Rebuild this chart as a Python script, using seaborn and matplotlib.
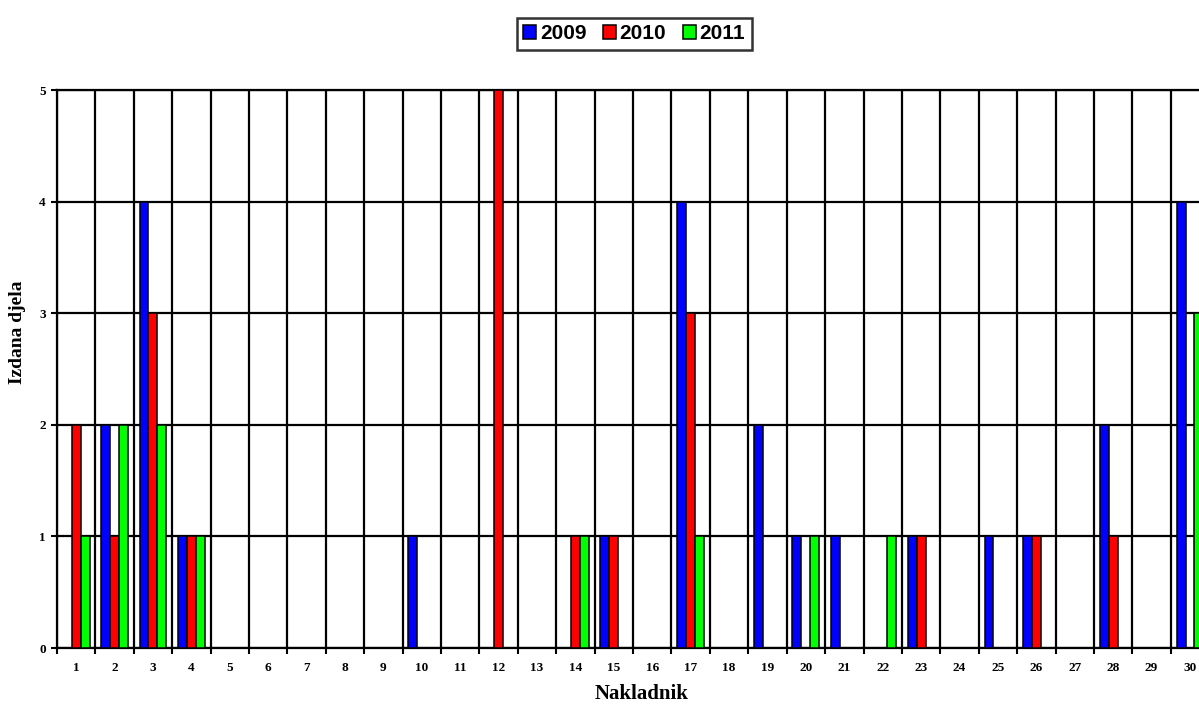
import matplotlib
matplotlib.use("Agg")
import matplotlib.pyplot as plt
import numpy as np
import pandas as pd
import seaborn as sns

# --- data ------------------------------------------------------------------
publishers = [str(i) for i in range(1, 31)]
years = ["2009", "2010", "2011"]
colors = ["#0000FF", "#FF0000", "#00FF00"]

works_2009 = [0, 2, 4, 1, 0, 0, 0, 0, 0, 1, 0, 0, 0, 0, 1,
              0, 4, 0, 2, 1, 1, 0, 1, 0, 1, 1, 0, 2, 0, 4]
works_2010 = [2, 1, 3, 1, 0, 0, 0, 0, 0, 0, 0, 5, 0, 1, 1,
              0, 3, 0, 0, 0, 0, 0, 1, 0, 0, 1, 0, 1, 0, 0]
works_2011 = [1, 2, 2, 1, 0, 0, 0, 0, 0, 0, 0, 0, 0, 1, 0,
              0, 1, 0, 0, 1, 0, 1, 0, 0, 0, 0, 0, 0, 0, 3]

df = pd.DataFrame({
    "Nakladnik": publishers * 3,
    "godina": np.repeat(years, len(publishers)),
    "djela": works_2009 + works_2010 + works_2011,
})

sns.set_theme(style="white")
serif_bold = {"family": "Liberation Serif", "weight": "bold"}

fig = plt.figure(figsize=(11.99, 7.04), dpi=100)
ax = fig.add_axes([0.0475, 0.0795, 0.961, 0.7925])

sns.barplot(data=df, x="Nakladnik", y="djela", hue="godina",
            order=publishers, hue_order=years, palette=colors,
            saturation=1, width=0.7, edgecolor="black", linewidth=1.1,
            errorbar=None, ax=ax, zorder=3)

# grid: horizontal at integers, vertical at category boundaries
ax.set_ylim(0, 5)
ax.set_xlim(-0.5, len(publishers) - 0.5)
ax.set_yticks(range(0, 6))
ax.set_xticks(np.arange(len(publishers)))
ax.set_xticks(np.arange(len(publishers) + 1) - 0.5, minor=True)
ax.grid(axis="y", which="major", color="black", linewidth=1.6, zorder=0)
ax.grid(axis="x", which="minor", color="black", linewidth=1.6, zorder=0)
ax.set_axisbelow(True)

ax.tick_params(axis="x", which="major", length=0, pad=10)
ax.tick_params(axis="x", which="minor", length=4, width=1.5, color="black",
               direction="out", bottom=True)
ax.tick_params(axis="y", length=4, width=1.5, color="black",
               direction="out", left=True, pad=4)
for lab in ax.get_xticklabels() + ax.get_yticklabels():
    lab.set_fontfamily("Liberation Serif")
    lab.set_fontweight("bold")
    lab.set_fontsize(9.5)
    lab.set_color("black")

for sp in ax.spines.values():
    sp.set_color("black")
    sp.set_linewidth(1.6)

ax.set_xlabel("Nakladnik", fontsize=15, color="black", **serif_bold)
ax.set_ylabel("Izdana djela", fontsize=14, color="black", **serif_bold)
ax.xaxis.set_label_coords(0.507, -0.065)
ax.yaxis.set_label_coords(-0.027, 0.566)

# legend boxed at the top centre
handles, labels = ax.get_legend_handles_labels()
ax.legend_.remove()
leg = fig.legend(handles, labels, loc="center", bbox_to_anchor=(0.529, 0.952),
                 ncol=3, frameon=True, fancybox=False, shadow=False,
                 handlelength=0.6, handleheight=0.6, handletextpad=0.2,
                 columnspacing=0.8, borderpad=0.3, labelcolor="black",
                 prop={"family": "Liberation Sans", "weight": "bold", "size": 15})
leg.get_frame().set_edgecolor("black")
leg.get_frame().set_linewidth(1.8)
for h in leg.legend_handles:
    h.set_edgecolor("black")
    h.set_linewidth(1.1)

fig.savefig("out.png", dpi=100)
